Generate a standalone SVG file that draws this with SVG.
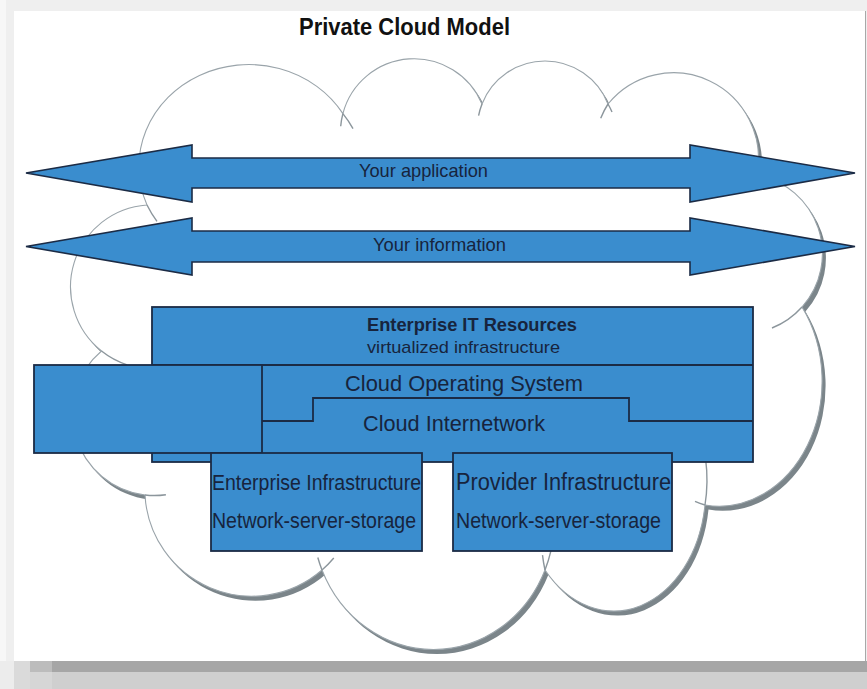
<svg xmlns="http://www.w3.org/2000/svg" width="867" height="689" viewBox="0 0 867 689">
<defs>
<style>
.ttl{font-family:"Liberation Sans",Arial,sans-serif;font-weight:bold;font-size:23px;fill:#111}
.lbl{font-family:"Liberation Sans",Arial,sans-serif;fill:#17243d}
.blk{fill:#3a8dce;stroke:#1b2b45;stroke-width:1.8}
.arw{fill:#3a8dce;stroke:#1b2b45;stroke-width:1.6;stroke-linejoin:miter}
.ln{fill:none;stroke:#1b2b45;stroke-width:1.8}
.stub{fill:none;stroke:#8c969c;stroke-width:1.4}
</style>
<path id="cloudPath" d="M147,205 A110,102 0 0 1 342.9,113.6 A73.6,73.6 0 0 1 482,104 A67.65,67.65 0 0 1 608,104 A85,86 0 0 1 757,175 A80,80 0 0 1 802,307 A103,125 0 0 1 705,505 A92,122 0 0 1 545,570 A121,130 0 0 1 322,570 A107,107 0 0 1 145,495 A82,82 0 0 1 101.5,351 A82,82 0 0 1 147,205 Z"/>
</defs>

<!-- page frame -->
<g id="page">
<rect x="0" y="0" width="867" height="689" fill="#efefef"/>
<rect x="0" y="0" width="6" height="661" fill="#f7f7f7"/>
<rect x="14" y="11" width="852" height="650" fill="#ffffff"/>
<line x1="865.5" y1="11" x2="865.5" y2="661" stroke="#a8a8a8" stroke-width="1"/>
<rect x="0" y="661" width="867" height="11" fill="#a6a6a6"/>
<rect x="0" y="672" width="867" height="17" fill="#cfcfcf"/>
<rect x="0" y="661" width="14" height="28" fill="#ececec"/>
<rect x="14" y="661" width="16" height="28" fill="#dadada"/>
<rect x="30" y="661" width="22" height="11" fill="#bcbcbc"/>
<rect x="30" y="672" width="22" height="17" fill="#d6d6d6"/>
</g>

<!-- cloud -->
<g id="cloud">
<use href="#cloudPath" transform="translate(3.5,4.5)" fill="#7b858a"/>
<use href="#cloudPath" fill="#ffffff" stroke="#9aa4aa" stroke-width="1.1"/>
<path class="stub" d="M157,221.3 A110,102 0 0 1 147,205"/>
<path class="stub" d="M342.9,113.6 A110,102 0 0 1 353,128.7"/>
<path class="stub" d="M340.7,126.2 A73.6,73.6 0 0 1 342.9,113.6"/>
<path class="stub" d="M478.6,115.7 A67.65,67.65 0 0 1 482,104"/>
<path class="stub" d="M608,104 A67.65,67.65 0 0 1 612,112"/>
<path class="stub" d="M600.7,118.2 A85,86 0 0 1 608,104"/>
<path class="stub" d="M757,175 A85,86 0 0 1 754.5,185.8"/>
<path class="stub" d="M744.8,174 A80,80 0 0 1 757,175"/>
<path class="stub" d="M802,307 A80,80 0 0 1 772,328"/>
<path class="stub" d="M705,505 A103,125 0 0 1 695,501.3"/>
<path class="stub" d="M705.6,458.8 A92,122 0 0 1 705,505"/>
<path class="stub" d="M545,570 A92,122 0 0 1 542.5,555.1"/>
<path class="stub" d="M550.9,550.9 A121,130 0 0 1 545,570"/>
<path class="stub" d="M322,570 A121,130 0 0 1 317.8,557.5"/>
<path class="stub" d="M333.8,558 A107,107 0 0 1 322,570"/>
<path class="stub" d="M165.9,494.7 A82,82 0 0 1 145,495" stroke-width="2.5"/>
<path class="stub" d="M127.1,364.8 A82,82 0 0 1 101.5,351"/>
</g>

<!-- block arrows -->
<g id="connectors">
<g id="arrow-application">
<polygon class="arw" points="26,173 192,145 192,158 690,158 690,145 855,173 690,202 690,188 192,188 192,202"/>
<text class="lbl" x="359" y="177" font-size="18.5" textLength="129" lengthAdjust="spacingAndGlyphs">Your application</text>
</g>
<g id="arrow-information">
<polygon class="arw" points="26,246.5 192,218 192,231 690,231 690,218 855,246.5 690,275 690,262 192,262 192,275"/>
<text class="lbl" x="373" y="251" font-size="18.5" textLength="133" lengthAdjust="spacingAndGlyphs">Your information</text>
</g>
</g>

<!-- Enterprise IT resources stack -->
<g id="enterprise-it">
<rect class="blk" x="152" y="307" width="601" height="155"/>
<text class="lbl" x="367" y="331" font-size="17.5" font-weight="bold" textLength="210" lengthAdjust="spacingAndGlyphs">Enterprise IT Resources</text>
<text class="lbl" x="367" y="353" font-size="17" textLength="193" lengthAdjust="spacingAndGlyphs">virtualized infrastructure</text>
</g>

<g id="cloud-os">
<line class="ln" x1="152" y1="365" x2="753" y2="365"/>
<text class="lbl" x="345" y="391" font-size="22" textLength="238" lengthAdjust="spacingAndGlyphs">Cloud Operating System</text>
</g>

<g id="cloud-internetwork">
<polyline class="ln" points="262,421 313,421 313,398 629,398 629,421 753,421"/>
<text class="lbl" x="363" y="431" font-size="22" textLength="182" lengthAdjust="spacingAndGlyphs">Cloud Internetwork</text>
</g>

<g id="left-block">
<rect class="blk" x="34" y="365" width="228" height="88"/>
</g>

<g id="enterprise-infra">
<rect class="blk" x="211" y="453" width="211" height="98"/>
<text class="lbl" x="212" y="490" font-size="22" textLength="209" lengthAdjust="spacingAndGlyphs">Enterprise Infrastructure</text>
<text class="lbl" x="212" y="528" font-size="22" textLength="204" lengthAdjust="spacingAndGlyphs">Network-server-storage</text>
</g>

<g id="provider-infra">
<rect class="blk" x="453" y="453" width="219" height="98"/>
<text class="lbl" x="456" y="490" font-size="23" textLength="215" lengthAdjust="spacingAndGlyphs">Provider Infrastructure</text>
<text class="lbl" x="456" y="528" font-size="22" textLength="205" lengthAdjust="spacingAndGlyphs">Network-server-storage</text>
</g>

<g id="title">
<text class="ttl" x="299" y="35" textLength="211" lengthAdjust="spacingAndGlyphs">Private Cloud Model</text>
</g>
</svg>
